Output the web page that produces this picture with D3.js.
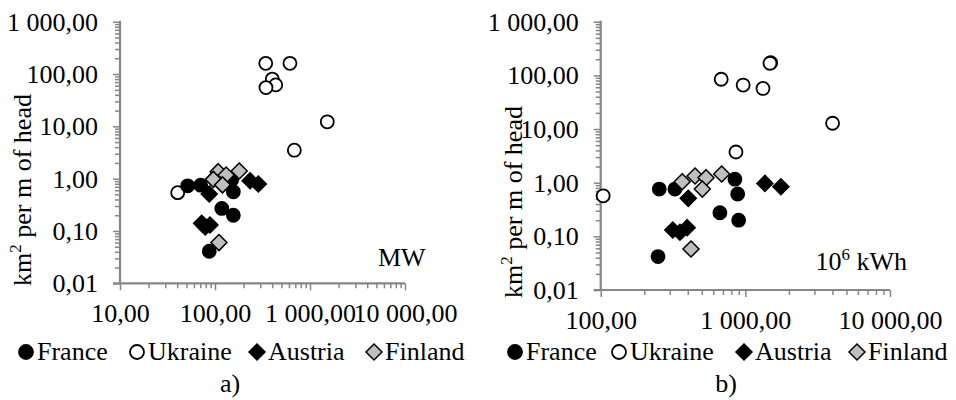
<!DOCTYPE html>
<html><head><meta charset="utf-8">
<script src="https://cdn.jsdelivr.net/npm/d3@7"></script>
<style>
html,body{margin:0;padding:0;background:#fff;}
svg{display:block;}
svg text{font-family:"Liberation Serif","Times New Roman","DejaVu Serif",serif;}
</style>
</head><body>
<svg id="chart" width="956" height="400"></svg>
<script>
// ---------- data ----------
const seriesNames = ["France", "Ukraine", "Austria", "Finland"];

const yTickValues = [0.01, 0.1, 1, 10, 100, 1000];
const yTickLabels = ["0,01", "0,10", "1,00", "10,00", "100,00", "1 000,00"];

const xTickValuesA = [10, 100, 1000, 10000];
const xTickLabelsA = ["10,00", "100,00", "1 000,00", "10 000,00"];
const xTickValuesB = [100, 1000, 10000];
const xTickLabelsB = ["100,00", "1 000,00", "10 000,00"];

// panel a) — x in MW
const franceA_x = [51.6, 70.7, 150, 156, 118, 156, 87];
const franceA_y = [0.73, 0.75, 0.95, 0.56, 0.27, 0.20, 0.041];
const ukraineA_x = [342, 615, 401, 436, 344, 1520, 684, 40.5];
const ukraineA_y = [160, 160, 80, 62, 55, 12.2, 3.5, 0.54];
const austriaA_x = [87, 234, 286, 72.4, 88.5, 79];
const austriaA_y = [0.51, 0.91, 0.79, 0.14, 0.13, 0.12];
const finlandA_x = [108, 96, 131, 180, 120, 110];
const finlandA_y = [1.36, 0.97, 1.17, 1.40, 0.76, 0.060];

// panel b) — x in 10^6 kWh
const franceB_x = [254, 326, 847, 885, 667, 899, 249];
const franceB_y = [0.76, 0.76, 1.16, 0.615, 0.275, 0.20, 0.042];
const ukraineB_x = [104, 681, 966, 1324, 1497, 1480, 4009, 861];
const ukraineB_y = [0.57, 84.6, 66, 57, 172, 168, 12.8, 3.73];
const austriaB_x = [403, 1365, 1761, 315, 353, 396];
const austriaB_y = [0.51, 0.97, 0.84, 0.131, 0.119, 0.145];
const finlandB_x = [366, 449, 535, 504, 686, 421];
const finlandB_y = [1.04, 1.33, 1.24, 0.76, 1.45, 0.058];

const unitA = "MW";
const panelLabels = ["a)", "b)"];

// ---------- styling ----------
const FONT = "Liberation Serif, Times New Roman, DejaVu Serif, serif";
const FS = 26;
const AXIS = "#868686";
const styles = {
  France:  {shape: "circle",  fill: "#000000"},
  Ukraine: {shape: "circle",  fill: "#ffffff"},
  Austria: {shape: "diamond", fill: "#000000"},
  Finland: {shape: "diamond", fill: "#bfbfbf"}
};

const svg = d3.select("#chart").style("font-family", FONT);

function zip(xs, ys) { return xs.map((x, i) => ({x: x, y: ys[i]})); }

function minorTicks(lo, hi) {
  const out = [];
  for (let d = lo; d < hi; d *= 10) for (let k = 2; k <= 9; k++) out.push(d * k);
  return out;
}

function drawMarker(g, shape, fill, cx, cy, size) {
  if (shape === "circle") {
    g.append("circle").attr("cx", cx).attr("cy", cy).attr("r", size)
      .attr("fill", fill).attr("stroke", "#000").attr("stroke-width", 1.8);
  } else {
    const s = size + 1.5;
    g.append("path")
      .attr("d", `M${cx},${cy - s}L${cx + s},${cy}L${cx},${cy + s}L${cx - s},${cy}Z`)
      .attr("fill", fill).attr("stroke", "#000").attr("stroke-width", 1.5)
      .attr("stroke-linejoin", "miter");
  }
}

function panel(cfg) {
  const g = svg.append("g");
  const x = d3.scaleLog().domain(cfg.xDomain).range(cfg.xRange);
  const y = d3.scaleLog().domain([0.01, 1000]).range(cfg.yRange);
  const x0 = cfg.xRange[0], y0 = cfg.yRange[0];

  // minor ticks
  g.append("g").attr("transform", `translate(${x0},0)`)
    .call(d3.axisLeft(y).tickValues(minorTicks(0.01, 1000)).tickSize(5).tickFormat(""))
    .call(a => a.select(".domain").remove())
    .call(a => a.selectAll("line").attr("stroke", AXIS).attr("stroke-width", 1.5));
  g.append("g").attr("transform", `translate(0,${y0})`)
    .call(d3.axisBottom(x).tickValues(minorTicks(cfg.xDomain[0], cfg.xDomain[1])).tickSize(5).tickFormat(""))
    .call(a => a.select(".domain").remove())
    .call(a => a.selectAll("line").attr("stroke", AXIS).attr("stroke-width", 1.5));

  // major y axis
  const ya = g.append("g").attr("transform", `translate(${x0},0)`)
    .call(d3.axisLeft(y).tickValues(yTickValues).tickSize(7).tickPadding(15)
      .tickFormat((d, i) => yTickLabels[i]));
  ya.attr("font-family", FONT);
  ya.select(".domain").attr("stroke", AXIS).attr("stroke-width", 2.2).attr("d", `M0,${cfg.yRange[1] - 1}V${y0}`);
  ya.selectAll("line").attr("stroke", AXIS).attr("stroke-width", 1.5);
  ya.selectAll("text").attr("font-size", FS).attr("fill", "#000").attr("dy", "0.33em");

  // major x axis
  const xa = g.append("g").attr("transform", `translate(0,${y0})`)
    .call(d3.axisBottom(x).tickValues(cfg.xTicks).tickSize(7).tickPadding(15)
      .tickFormat((d, i) => cfg.xLabels[i]));
  xa.attr("font-family", FONT);
  xa.select(".domain").attr("stroke", AXIS).attr("stroke-width", 2.2).attr("d", `M${x0 - 7},0H${cfg.xRange[1]}`);
  xa.selectAll("line").attr("stroke", AXIS).attr("stroke-width", 1.5);
  xa.selectAll("text").attr("font-size", FS).attr("fill", "#000")
    .attr("y", 39).attr("dy", 0);

  // points
  const pts = g.append("g");
  cfg.order.forEach(name => {
    const st = styles[name];
    cfg.data[name].forEach(p => drawMarker(pts, st.shape, st.fill, x(p.x), y(p.y), 6.5));
  });

  // y title
  const t = g.append("text")
    .attr("transform", `translate(${cfg.titleX},${cfg.titleY}) rotate(-90)`)
    .attr("text-anchor", "middle").attr("font-size", FS).attr("fill", "#000");
  t.append("tspan").text("km");
  t.append("tspan").attr("font-size", FS * 0.65).attr("dy", -10).text("2");
  t.append("tspan").attr("dy", 10).text(" per m of head");

  // unit label
  cfg.unit(g);

  // legend
  const lg = g.append("g");
  seriesNames.forEach((name, i) => {
    const st = styles[name];
    const item = lg.append("g").attr("transform", `translate(${cfg.legendStarts[i]},${cfg.legendY})`);
    drawMarker(item, st.shape, st.fill, 9, -8, st.shape === "circle" ? 7 : 6.5);
    item.append("text").attr("x", 20).attr("y", 0).attr("font-size", FS).attr("fill", "#000").text(name);
  });

  g.append("text").attr("x", cfg.labelX).attr("y", 392).attr("text-anchor", "middle")
    .attr("font-size", FS).attr("fill", "#000").text(cfg.label);
}

panel({
  xDomain: [10, 10000], xRange: [120, 405], yRange: [283.3, 21.7],
  xTicks: xTickValuesA, xLabels: xTickLabelsA,
  data: {
    France: zip(franceA_x, franceA_y), Ukraine: zip(ukraineA_x, ukraineA_y),
    Austria: zip(austriaA_x, austriaA_y), Finland: zip(finlandA_x, finlandA_y)
  },
  order: ["Ukraine", "France", "Austria", "Finland"],
  titleX: 31, titleY: 190,
  unit: g => g.append("text").attr("x", 378).attr("y", 266).attr("font-size", FS).attr("fill", "#000").text(unitA),
  legendStarts: [17, 128, 248, 365], legendY: 360, labelX: 230, label: panelLabels[0]
});

panel({
  xDomain: [100, 10000], xRange: [600.7, 890], yRange: [290, 21.7],
  xTicks: xTickValuesB, xLabels: xTickLabelsB,
  data: {
    France: zip(franceB_x, franceB_y), Ukraine: zip(ukraineB_x, ukraineB_y),
    Austria: zip(austriaB_x, austriaB_y), Finland: zip(finlandB_x, finlandB_y)
  },
  order: ["Ukraine", "France", "Austria", "Finland"],
  titleX: 522, titleY: 202,
  unit: g => {
    const t = g.append("text").attr("x", 907).attr("y", 270).attr("text-anchor", "end")
      .attr("font-size", FS).attr("fill", "#000");
    t.append("tspan").text("10");
    t.append("tspan").attr("font-size", FS * 0.65).attr("dy", -10).text("6");
    t.append("tspan").attr("dy", 10).text(" kWh");
  },
  legendStarts: [506, 610, 735, 848], legendY: 360, labelX: 726, label: panelLabels[1]
});
</script>
</body></html>
